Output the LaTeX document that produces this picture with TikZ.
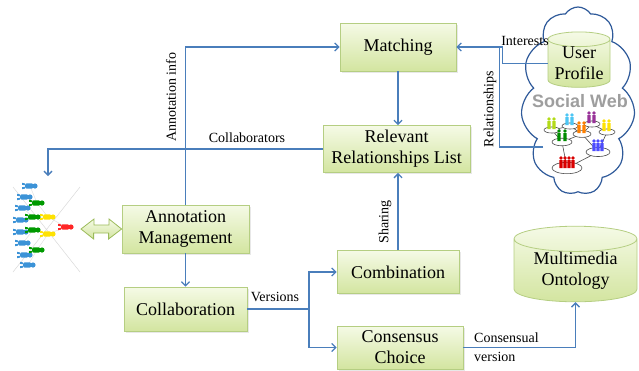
\documentclass[tikz,border=0pt]{standalone}
\usepackage{fontspec}
\setmainfont{Liberation Serif}
\newfontfamily\websans{Liberation Sans}
\usetikzlibrary{arrows.meta,positioning,calc,shapes.geometric,shapes.symbols,shadows}
\definecolor{fblue}{HTML}{4A7EBB}
\definecolor{cloudblue}{HTML}{2F5A9A}
\definecolor{boxtop}{HTML}{F5FAE6}
\definecolor{boxbot}{HTML}{D3E5A0}
\definecolor{boxline}{HTML}{B5CE82}
\definecolor{dbline}{HTML}{9BBB59}
\tikzset{
  block/.style = {draw=boxline, line width=0.8pt, rectangle, inner sep=0pt,
                  top color=boxtop, bottom color=boxbot, align=center,
                  font=\fontsize{18}{21}\selectfont,
                  drop shadow={opacity=0.18, shadow xshift=1.5pt, shadow yshift=-1.5pt}},
  store/.style = {cylinder, shape border rotate=90, aspect=0.3, draw=boxline,
                  line width=0.8pt, inner sep=0pt, top color=boxtop,
                  bottom color=boxbot, align=center,
                  font=\fontsize{18}{21}\selectfont},
  sig/.style   = {draw=fblue, line width=1.3pt, -{Straight Barb[length=4pt,width=8pt]}},
  wire/.style  = {draw=fblue, line width=1.3pt},
  lbl/.style   = {font=\fontsize{14}{16}\selectfont, inner sep=0pt, align=left},
}
% a person lying on its side, head to the right
\newcommand{\lying}[3]{%
  \fill[#3] (#1,#2) ++(5,0) circle (2.6pt);
  \fill[#3, rounded corners=1.5pt] (#1,#2) ++(-5,-2.6) rectangle ++(8.5,5.2);
  \fill[#3] (#1,#2) ++(-5,-2.6) -- ++(-3,-0.6) -- ++(0,2) -- ++(3,0.4) -- cycle
                    ++(0,5.2) -- ++(-3,0.6) -- ++(0,-2) -- ++(3,-0.4) -- cycle;}
% a person standing with its feet at the given point
\newcommand{\member}[3]{\fill[#3] (#1,#2) ++(0,-10) circle (1.8pt) ++(-1.7,2.2) rectangle ++(3.4,7.8);}

\begin{document}
\begin{tikzpicture}[x=1pt,y=-1pt]
\useasboundingbox (0,0) rectangle (639,370);
% ---- social web cloud ----
\node[cloud, cloud ignores aspect, cloud puffs=11, cloud puff arc=115, draw=cloudblue,
      line width=1.2pt, fill=white, minimum width=114pt, minimum height=188pt] (sweb) at (578,101) {};
\node[text=black!38, font=\websans\bfseries\fontsize{18}{18}\selectfont] (swebtxt) at (580,101) {Social Web};
% network of groups
\foreach \ax/\ay/\bx/\by in {567/168/562/142, 567/168/598/152, 562/142/582/134, 582/134/592/124,
                   582/134/598/152, 552/130/570/126, 570/126/582/134, 607/132/598/152,
                   607/132/592/124, 562/142/552/130}
  \draw[black!70, line width=0.6pt] (\ax,\ay) -- (\bx,\by);
\foreach \cx/\cy/\rx in {567/168/15, 598/152/12, 562/142/10, 582/134/9, 552/130/8,
                         570/126/8, 592/124/8, 607/132/8}
  \draw[black!70, fill=white, line width=0.6pt] (\cx,\cy) ellipse ({\rx} and {\rx*0.38});
\foreach \dx in {-6,-2,2,6} \member{567+\dx}{168}{red!85!black};
\foreach \dx in {-4,0,4} \member{598+\dx}{151}{blue!70};
\foreach \dx in {-3,3} \member{562+\dx}{141}{green!55!black};
\foreach \dx in {-3,2} \member{582+\dx}{133}{orange};
\foreach \dx in {-3,2} \member{552+\dx}{129}{yellow!70!green};
\foreach \dx in {-3,2} \member{570+\dx}{125}{cyan!70};
\foreach \dx in {-3,2} \member{592+\dx}{123}{violet!80};
\foreach \dx in {-3,2} \member{607+\dx}{131}{yellow!85!orange};
\coordinate (net) at (543,147);

% ---- team of annotators (left) ----
\draw[black!15, line width=0.5pt] (13,187) -- (80,272) (80,187) -- (13,272);
\draw[black!12, line width=0.5pt] (30,186) -- (37,203) -- (25,197) (23,208) -- (33,217) -- (21,220)
  (21,232) -- (33,230) -- (23,243) (25,255) -- (37,250) -- (28,265)
  (37,203) -- (48,217) -- (33,217) (33,230) -- (48,234) -- (37,250)
  (48,217) -- (66,227) -- (48,234);
\foreach \x/\y in {30/186,25/197,23/208,21/220,21/232,23/243,25/255,28/265}
  \lying{\x}{\y}{cyan!65!blue!80};
\foreach \x/\y in {37/203,33/217,33/230,37/250}
  \lying{\x}{\y}{green!60!black};
\foreach \x/\y in {48/217,48/234}
  \lying{\x}{\y}{yellow!85!orange};
\lying{66}{227}{red!85};
\coordinate (team) at (48,176);
\coordinate (teamR) at (81,229);

% ---- process blocks ----
\node[block, minimum width=116pt, minimum height=48pt] (match) at (398,47) {Matching};
\node[block, minimum width=147pt, minimum height=47pt] (rel) at (396.5,149) {Relevant\\Relationships List};
\node[block, minimum width=127pt, minimum height=48pt] (annot) at (185.5,229) {Annotation\\Management};
\node[block, minimum width=123pt, minimum height=44pt] (collab) at (185.5,309) {Collaboration};
\node[block, minimum width=122pt, minimum height=43pt] (comb) at (398,272) {Combination};
\node[block, minimum width=126pt, minimum height=43pt] (cons) at (400,347.5) {Consensus\\Choice};
\node[store, minimum width=123pt, minimum height=70pt] (onto) at (575.5,270.5) {Multimedia\\Ontology};
\node[store, minimum width=62pt, minimum height=43pt] (profile) at (579,63.5) {User\\Profile};

% ---- exchange between team and annotation management ----
\draw[dbline, line width=0.8pt, top color=boxtop, bottom color=boxbot]
  (teamR) -- ++(13,-10) -- ++(0,6) -- ++(15,0) -- ++(0,-6) -- (annot.west)
  -- ++(-13,10) -- ++(0,-6) -- ++(-15,0) -- ++(0,6) -- cycle;

% ---- flows ----
\draw[sig] (annot.north) |- (match.west);
\draw[sig] (annot.south) -- (collab.north);
\draw[sig] (match.south) -- (match.south |- rel.north);
\draw[sig] (comb.north) -- (comb.north |- rel.south);
\draw[sig] (rel.west) -| (team);
\coordinate (fork) at (309,309);
\draw[wire] (collab.east) -- (fork);
\draw[sig] (fork) |- (comb.west);
\draw[sig] (fork) |- (cons.west);
\draw[sig] (cons.east) -| (onto.south);
\draw[sig] (profile.west) -| ($(match.east)+(46,0)$) -- (match.east);
\draw[wire] (net) -| ($(match.east)+(43,0)$);

% ---- flow labels ----
\node[lbl, rotate=90] (lInfo) at (171,97) {Annotation info};
\node[lbl] (lCollab) at (247,138) {Collaborators};
\node[lbl, rotate=90] (lShare) at (385,222) {Sharing};
\node[lbl] (lVers) at (275,297) {Versions};
\node[lbl] (lInt) at (525,41) {Interests};
\node[lbl, rotate=90] (lRel) at (490,109) {Relationships};
\node[lbl, anchor=west, font=\fontsize{14}{19}\selectfont] (lCons) at (474,347) {Consensual\\version};
\end{tikzpicture}
\end{document}
